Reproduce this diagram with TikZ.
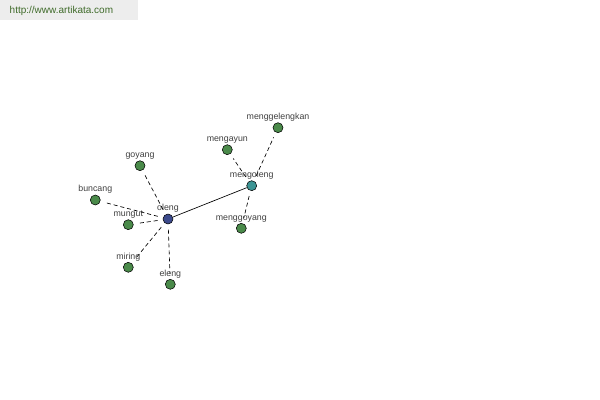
\documentclass[tikz,border=0pt]{standalone}
\usepackage{fontspec}
\setmainfont{Liberation Sans}
\usepackage{xcolor}
\usepackage{tikz}
\usetikzlibrary{arrows}
\usetikzlibrary{arrows.meta}

\definecolor{daun}{HTML}{4A8A4A}
\definecolor{pusat}{HTML}{3C4A8C}
\definecolor{cabang}{HTML}{3C9494}
\definecolor{situs}{HTML}{3F6B2A}

\begin{document}
\begin{tikzpicture}[x=0.75pt, y=-0.75pt,
    kata/.style={circle, draw=black, line width=0.4pt, minimum size=7.5pt, inner sep=0pt,
        label={[font=\fontsize{6.6}{7}\selectfont, text=black!75, label distance=-2.8pt]above:#1}},
    leaf/.style={kata={#1}, fill=daun},
    putus/.style={dash pattern=on 3pt off 2.2pt, line width=0.5pt, shorten >=4pt, shorten <=4pt}]
    \useasboundingbox (0,0) rectangle (600,400);
    \fill[white] (0,0) rectangle (600,400);

    \fill[black!7] (0,0) rectangle (138,20);
    \node[anchor=west, text=situs, font=\fontsize{7.5}{9}\selectfont] (situs) at (5,11) {http://www.artikata.com};

    \node[kata=oleng, fill=pusat] (oleng) at (168,219) {};
    \node[kata=mengoleng, fill=cabang] (mengoleng) at (251.7,185.7) {};

    \node[leaf=menggelengkan] (menggelengkan) at (278,127.7) {};
    \node[leaf=mengayun] (mengayun) at (227.3,149.7) {};
    \node[leaf=menggoyang] (menggoyang) at (241.3,228.3) {};
    \node[leaf=goyang] (goyang) at (140,165.7) {};
    \node[leaf=buncang] (buncang) at (95.3,200) {};
    \node[leaf=mungut] (mungut) at (128.3,224.7) {};
    \node[leaf=miring] (miring) at (128.3,267.3) {};
    \node[leaf=eleng] (eleng) at (170.3,284.3) {};

    \draw[line width=0.5pt] (oleng) -- (mengoleng);
    \draw[putus] (oleng) -- (goyang);
    \draw[putus] (oleng) -- (buncang);
    \draw[putus] (oleng) -- (mungut);
    \draw[putus] (oleng) -- (miring);
    \draw[putus] (oleng) -- (eleng);
    \draw[putus] (mengoleng) -- (menggelengkan);
    \draw[putus] (mengoleng) -- (mengayun);
    \draw[putus] (mengoleng) -- (menggoyang);
\end{tikzpicture}
\end{document}
